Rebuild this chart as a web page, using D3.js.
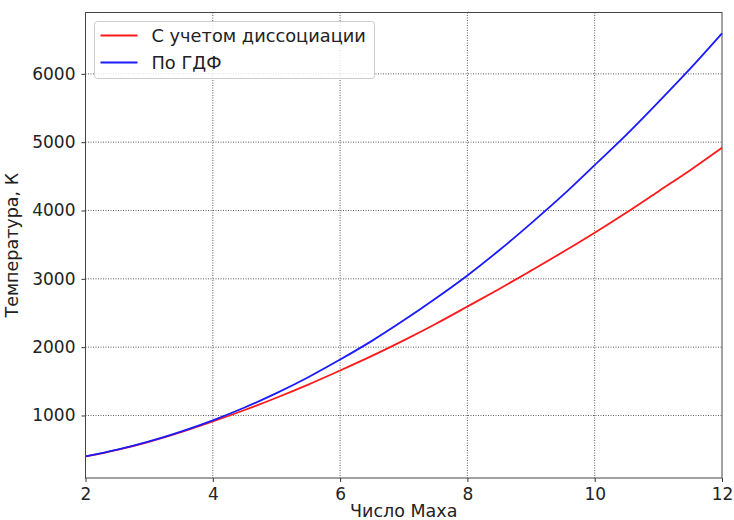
<!DOCTYPE html>
<html>
<head>
<meta charset="utf-8">
<script src="https://cdn.jsdelivr.net/npm/d3@7"></script>
<style>
  body { margin: 0; background: #fff; }
  text { font-family: "DejaVu Sans", sans-serif; fill: #222; }
</style>
</head>
<body>
<div id="viz"></div>
<script>
// Mach numbers and temperatures
const machNumbers = [2, 2.5, 3, 3.5, 4, 4.5, 5, 5.5, 6, 6.5, 7, 7.5, 8, 8.5, 9, 9.5, 10, 10.5, 11, 11.5, 12];
const tempDissociation = [400, 498, 615, 755, 912, 1080, 1260, 1452, 1658, 1872, 2100, 2340, 2594, 2852, 3120, 3392, 3674, 3970, 4280, 4590, 4918];
const tempGasDynamic = [400, 499, 620, 764, 929, 1117, 1327, 1560, 1818, 2092, 2392, 2712, 3050, 3418, 3812, 4224, 4665, 5110, 5585, 6075, 6592];
const xTicks = [2, 4, 6, 8, 10, 12];
const yTicks = [1000, 2000, 3000, 4000, 5000, 6000];
const seriesNames = ["С учетом диссоциации", "По ГДФ"];
const seriesColors = ["#ff1a1a", "#1a1aff"];

// set the dimensions and margins of the graph
const margin = {top: 12.5, right: 12, bottom: 42, left: 85.5},
    width = 734 - margin.left - margin.right,
    height = 520 - margin.top - margin.bottom;

const svg = d3.select("#viz")
  .append("svg")
    .attr("width", 734)
    .attr("height", 520)
  .append("g")
    .attr("transform", `translate(${margin.left},${margin.top})`);

const x = d3.scaleLinear().domain([2, 12]).range([0, width]);
const y = d3.scaleLinear().domain([85, 6898]).range([height, 0]);

// grid
svg.append("g")
  .selectAll("line")
  .data(xTicks.slice(1, -1))
  .join("line")
    .attr("x1", d => x(d)).attr("x2", d => x(d))
    .attr("y1", 0).attr("y2", height)
    .attr("stroke", "#333").attr("stroke-width", 0.8)
    .attr("stroke-dasharray", "1,1.5");
svg.append("g")
  .selectAll("line")
  .data(yTicks)
  .join("line")
    .attr("x1", 0).attr("x2", width)
    .attr("y1", d => y(d)).attr("y2", d => y(d))
    .attr("stroke", "#333").attr("stroke-width", 0.8)
    .attr("stroke-dasharray", "1,1.5");

// axes
const xAxis = svg.append("g")
    .attr("transform", `translate(0,${height})`)
    .call(d3.axisBottom(x).tickValues(xTicks).tickSize(4).tickPadding(6).tickFormat(d3.format("d")));
const yAxis = svg.append("g")
    .call(d3.axisLeft(y).tickValues(yTicks).tickSize(4).tickPadding(6).tickFormat(d3.format("d")));
[xAxis, yAxis].forEach(a => {
  a.select(".domain").remove();
  a.selectAll("text").attr("font-size", 17).attr("font-family", "DejaVu Sans").attr("fill", "#222");
  a.selectAll("line").attr("stroke", "#333");
});

// frame
svg.append("rect")
    .attr("width", width).attr("height", height)
    .attr("fill", "none").attr("stroke", "#444").attr("stroke-width", 1);

// lines
const line = d3.line()
    .x((d, i) => x(machNumbers[i]))
    .y(d => y(d))
    .curve(d3.curveCatmullRom);
[tempDissociation, tempGasDynamic].forEach((s, i) => {
  svg.append("path")
    .datum(s)
    .attr("fill", "none")
    .attr("stroke", seriesColors[i])
    .attr("stroke-width", 1.8)
    .attr("d", line);
});

// axis labels
svg.append("text")
    .attr("x", width / 2).attr("y", height + 39)
    .attr("text-anchor", "middle").attr("font-size", 17.5)
    .text("Число Маха");
svg.append("text")
    .attr("transform", `translate(${-68},${height / 2}) rotate(-90)`)
    .attr("text-anchor", "middle").attr("font-size", 17.5)
    .text("Температура, К");

// legend
const legend = svg.append("g").attr("transform", "translate(9,9)");
legend.append("rect")
    .attr("width", 280).attr("height", 57).attr("rx", 3)
    .attr("fill", "#fff").attr("fill-opacity", 0.8)
    .attr("stroke", "#ccc").attr("stroke-width", 1);
seriesNames.forEach((n, i) => {
  const g = legend.append("g").attr("transform", `translate(0,${14 + i * 27})`);
  g.append("line").attr("x1", 6).attr("x2", 43).attr("y1", 0).attr("y2", 0)
    .attr("stroke", seriesColors[i]).attr("stroke-width", 1.8);
  g.append("text").attr("x", 57).attr("y", 6.5).attr("font-size", 17.8).text(n);
});
</script>
</body>
</html>
